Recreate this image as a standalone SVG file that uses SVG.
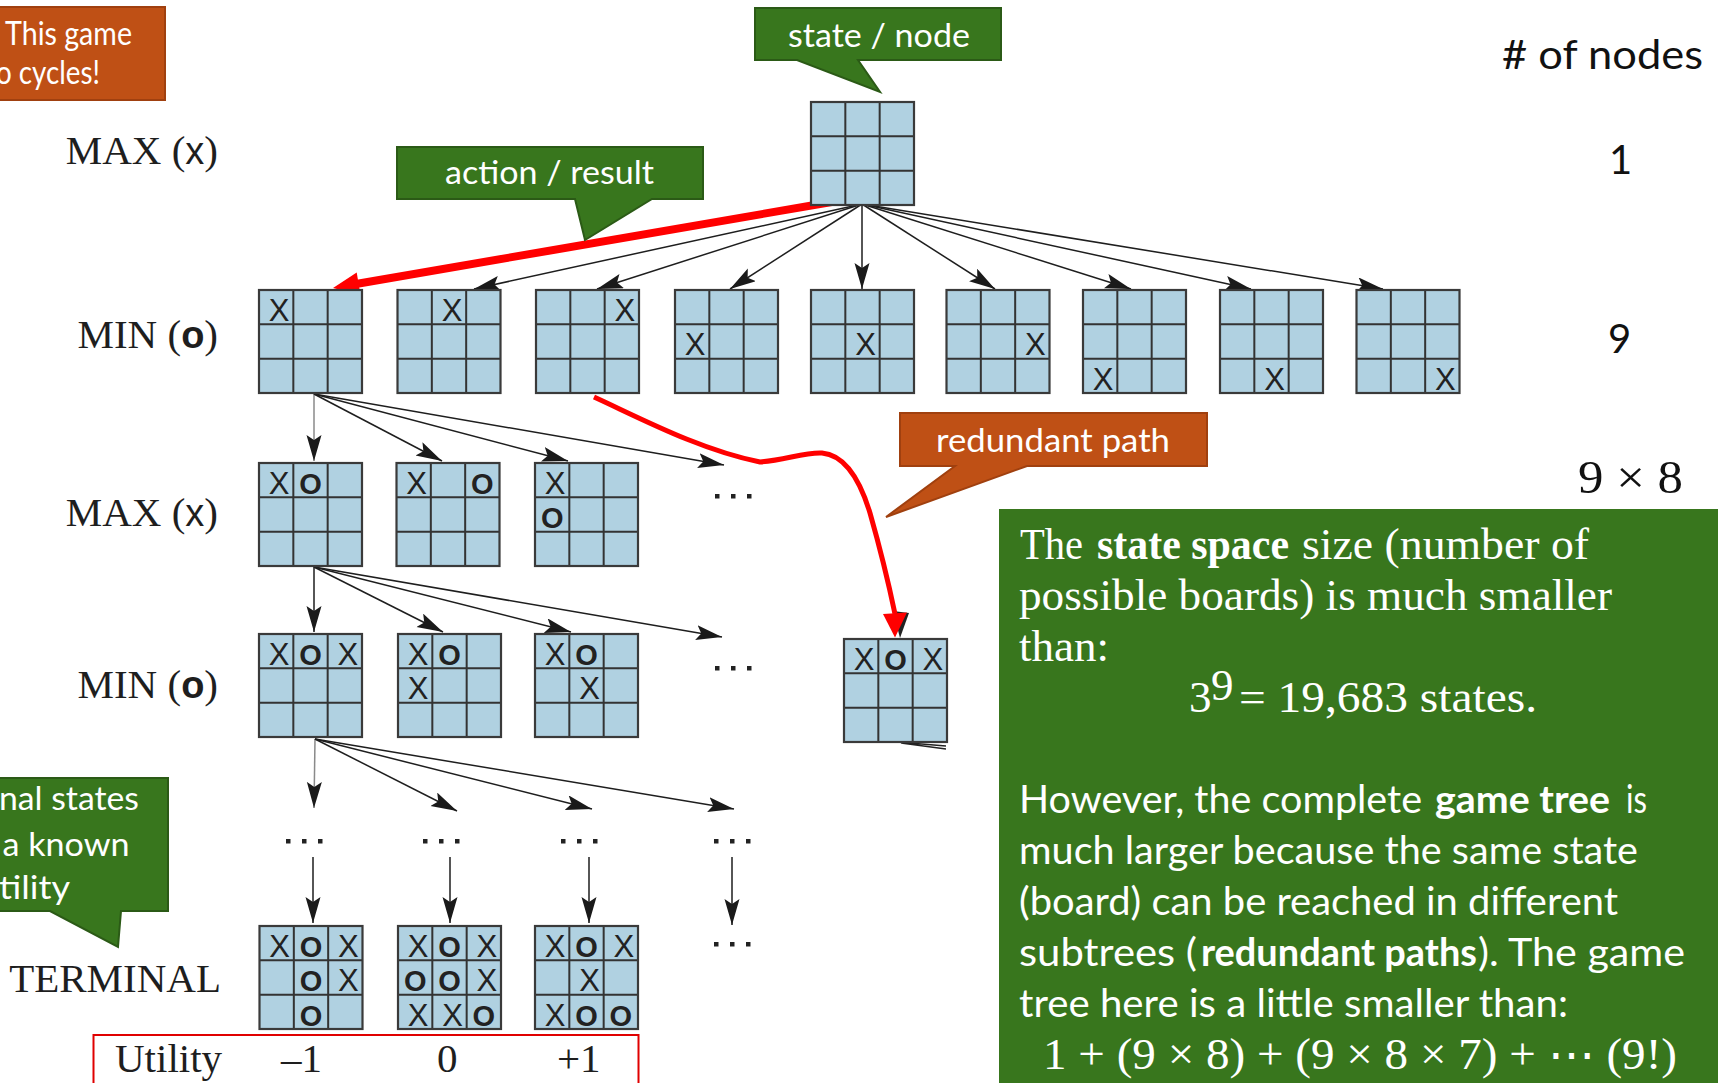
<svg xmlns="http://www.w3.org/2000/svg" width="1718" height="1083" viewBox="0 0 1718 1083">
  <style>
    .cellbg { fill: #b0d1e1; }
    .grid { fill: none; stroke: #333; stroke-width: 2; }
    .frame { fill: none; stroke: #3a3a3a; stroke-width: 2.2; }
    .mk { font-family: "Liberation Sans", Arial, sans-serif; font-size: 31px; fill: #222; text-anchor: middle; }
    .mo { font-weight: bold; font-size: 29px; }
    .lbl { font-family: "Liberation Serif", "Times New Roman", serif; font-size: 41px; fill: #1e1e1e; text-anchor: end; }
    .lsym { font-family: "Liberation Sans", Arial, sans-serif; font-size: 38px; }
    .util { font-family: "Liberation Serif", "Times New Roman", serif; font-size: 41px; fill: #1e1e1e; }
    .edge { fill: none; stroke: #1e1e1e; stroke-width: 1.5; marker-end: url(#ah); }
    .edge.soft { stroke: #8a8a8a; }
    .dot { fill: #222; }
    .green { fill: #38761d; stroke: #2b5a16; stroke-width: 2; }
    .orange { fill: #bf5015; stroke: #a0400f; stroke-width: 2; }
    .cw { font-family: Lato, "Liberation Sans", sans-serif; font-size: 32px; fill: #fff; }
    .count { font-family: Lato, "Liberation Sans", sans-serif; font-size: 40px; fill: #111; }
    .math { font-family: "Liberation Serif", "Times New Roman", serif; fill: #111; }
    .body-serif { font-family: "Liberation Serif", "Times New Roman", serif; font-size: 45px; fill: #fff; }
    .body-sans { font-family: Lato, "Liberation Sans", sans-serif; font-size: 39px; fill: #fff; }
    .b { font-weight: bold; }
  </style>
  <defs>
    <marker id="ah" markerUnits="userSpaceOnUse" markerWidth="28" markerHeight="16" refX="26" refY="7.5" orient="auto">
      <path d="M0,0 L26,7.5 L0,15 L5,7.5 Z" fill="#1a1a1a"/>
    </marker>
    <g id="board">
      <rect width="103" height="103" class="cellbg"/>
      <path d="M34.33,0V103M68.67,0V103M0,34.33H103M0,68.67H103" class="grid"/>
      <rect width="103" height="103" class="frame"/>
    </g>
  </defs>

  <rect width="1718" height="1083" fill="#fff"/>

  <!-- ply labels -->
  <g id="ply-labels">
    <text class="lbl" x="218" y="164">MAX (<tspan class="lsym">x</tspan>)</text>
    <text class="lbl" x="218" y="348">MIN (<tspan class="lsym b">o</tspan>)</text>
    <text class="lbl" x="218" y="526">MAX (<tspan class="lsym">x</tspan>)</text>
    <text class="lbl" x="218" y="698">MIN (<tspan class="lsym b">o</tspan>)</text>
    <text class="lbl" x="221" y="992">TERMINAL</text>
  </g>

  <!-- utility row -->
  <g id="utility">
    <rect x="93.5" y="1035" width="545" height="60" fill="none" stroke="#e00000" stroke-width="2"/>
    <text class="util" x="115" y="1072">Utility</text>
    <text class="util" x="281" y="1072">–1</text>
    <text class="util" x="437" y="1072">0</text>
    <text class="util" x="557" y="1072">+1</text>
  </g>

  <!-- connectors -->
  <g id="connectors">
    <!-- root to first MIN ply -->
    <path class="edge" d="M862,204 L474,289"/>
    <path class="edge" d="M862,204 L597,289"/>
    <path class="edge" d="M862,204 L730,289"/>
    <path class="edge" d="M862,204 L862,289"/>
    <path class="edge" d="M862,204 L995,289"/>
    <path class="edge" d="M862,204 L1131,289"/>
    <path class="edge" d="M862,204 L1251,289"/>
    <path class="edge" d="M862,204 L1383,289"/>
    <!-- MIN ply to MAX ply -->
    <path class="edge soft" d="M314,394 L314,461"/>
    <path class="edge" d="M314,394 L442,461"/>
    <path class="edge" d="M314,394 L568,461"/>
    <path class="edge" d="M314,394 L724,465"/>
    <!-- MAX ply to MIN ply -->
    <path class="edge" d="M314,567 L314,632"/>
    <path class="edge" d="M314,567 L443,632"/>
    <path class="edge" d="M314,567 L571,632"/>
    <path class="edge" d="M314,567 L722,637"/>
    <!-- MIN ply to elided plies -->
    <path class="edge soft" d="M315,739 L314,808"/>
    <path class="edge" d="M315,739 L457,811"/>
    <path class="edge" d="M315,739 L592,809"/>
    <path class="edge" d="M315,739 L734,809"/>
    <!-- elided plies to terminal states -->
    <path class="edge" d="M313,857 L313,923"/>
    <path class="edge" d="M450,857 L450,923"/>
    <path class="edge" d="M589,857 L589,923"/>
    <path class="edge" d="M732,857 L732,925"/>
    <!-- stray edge stubs under the repeated board -->
    <path d="M897,742 L946,746 M901,743 L946,749" stroke="#222" stroke-width="1.3" fill="none"/>
    <polygon points="893,611 909,613 900,638" fill="#222"/>

    <!-- highlighted action: root to first child -->
    <line x1="861" y1="197" x2="356" y2="284" stroke="#ff0000" stroke-width="8"/>
    <polygon points="333,288 356.7,272.5 360.5,295" fill="#ff0000"/>

    <!-- redundant path curve -->
    <path d="M594,397 C640,418 700,450 760,462 C785,460 805,452 822,453 C845,455 860,480 870,513 C880,548 890,590 895,614" fill="none" stroke="#ff0000" stroke-width="5"/>
    <polygon points="883,614 907,612.5 895,637.5" fill="#ff0000"/>
  </g>

  <!-- elided siblings -->
  <g id="ellipses">
    <rect class="dot" x="715" y="494" width="4.5" height="4.5"/><rect class="dot" x="731" y="494" width="4.5" height="4.5"/><rect class="dot" x="747" y="494" width="4.5" height="4.5"/>
    <rect class="dot" x="715" y="666" width="4.5" height="4.5"/><rect class="dot" x="731" y="666" width="4.5" height="4.5"/><rect class="dot" x="747" y="666" width="4.5" height="4.5"/>
    <rect class="dot" x="286" y="839" width="4.5" height="4.5"/><rect class="dot" x="302" y="839" width="4.5" height="4.5"/><rect class="dot" x="318" y="839" width="4.5" height="4.5"/>
    <rect class="dot" x="423" y="839" width="4.5" height="4.5"/><rect class="dot" x="439" y="839" width="4.5" height="4.5"/><rect class="dot" x="455" y="839" width="4.5" height="4.5"/>
    <rect class="dot" x="561" y="839" width="4.5" height="4.5"/><rect class="dot" x="577" y="839" width="4.5" height="4.5"/><rect class="dot" x="593" y="839" width="4.5" height="4.5"/>
    <rect class="dot" x="714" y="839" width="4.5" height="4.5"/><rect class="dot" x="730" y="839" width="4.5" height="4.5"/><rect class="dot" x="746" y="839" width="4.5" height="4.5"/>
    <rect class="dot" x="714" y="942" width="4.5" height="4.5"/><rect class="dot" x="730" y="942" width="4.5" height="4.5"/><rect class="dot" x="746" y="942" width="4.5" height="4.5"/>
  </g>

  <!-- root -->
  <g id="n-root" transform="translate(811,102)"><use href="#board"/></g>

  <!-- MIN ply: the nine opening moves -->
  <g id="n-min-1" transform="translate(259,290)"><use href="#board"/><text class="mk" x="20.2" y="31">X</text></g>
  <g id="n-min-2" transform="translate(397.5,290)"><use href="#board"/><text class="mk" x="54.5" y="31">X</text></g>
  <g id="n-min-3" transform="translate(536,290)"><use href="#board"/><text class="mk" x="88.8" y="31">X</text></g>
  <g id="n-min-4" transform="translate(675,290)"><use href="#board"/><text class="mk" x="20.2" y="65.3">X</text></g>
  <g id="n-min-5" transform="translate(811,290)"><use href="#board"/><text class="mk" x="54.5" y="65.3">X</text></g>
  <g id="n-min-6" transform="translate(946.5,290)"><use href="#board"/><text class="mk" x="88.8" y="65.3">X</text></g>
  <g id="n-min-7" transform="translate(1083,290)"><use href="#board"/><text class="mk" x="20.2" y="99.6">X</text></g>
  <g id="n-min-8" transform="translate(1220,290)"><use href="#board"/><text class="mk" x="54.5" y="99.6">X</text></g>
  <g id="n-min-9" transform="translate(1356.5,290)"><use href="#board"/><text class="mk" x="88.8" y="99.6">X</text></g>

  <!-- MAX ply -->
  <g id="n-max-1" transform="translate(259,463)"><use href="#board"/><text class="mk" x="20.2" y="31">X</text><text class="mk mo" x="51.5" y="31">O</text></g>
  <g id="n-max-2" transform="translate(396.5,463)"><use href="#board"/><text class="mk" x="20.2" y="31">X</text><text class="mk mo" x="85.8" y="31">O</text></g>
  <g id="n-max-3" transform="translate(535,463)"><use href="#board"/><text class="mk" x="20.2" y="31">X</text><text class="mk mo" x="17.2" y="65.3">O</text></g>

  <!-- MIN ply -->
  <g id="n-min2-1" transform="translate(259,634)"><use href="#board"/><text class="mk" x="20.2" y="31">X</text><text class="mk mo" x="51.5" y="31">O</text><text class="mk" x="88.8" y="31">X</text></g>
  <g id="n-min2-2" transform="translate(398,634)"><use href="#board"/><text class="mk" x="20.2" y="31">X</text><text class="mk mo" x="51.5" y="31">O</text><text class="mk" x="20.2" y="65.3">X</text></g>
  <g id="n-min2-3" transform="translate(535,634)"><use href="#board"/><text class="mk" x="20.2" y="31">X</text><text class="mk mo" x="51.5" y="31">O</text><text class="mk" x="54.5" y="65.3">X</text></g>

  <!-- same state reached along another branch -->
  <g id="n-repeat" transform="translate(844,639)"><use href="#board"/><text class="mk" x="20.2" y="31">X</text><text class="mk mo" x="51.5" y="31">O</text><text class="mk" x="88.8" y="31">X</text></g>

  <!-- terminal states -->
  <g id="n-term-1" transform="translate(259.5,926)"><use href="#board"/>
    <text class="mk" x="20.2" y="31">X</text><text class="mk mo" x="51.5" y="31">O</text><text class="mk" x="88.8" y="31">X</text>
    <text class="mk mo" x="51.5" y="65.3">O</text><text class="mk" x="88.8" y="65.3">X</text>
    <text class="mk mo" x="51.5" y="99.6">O</text>
  </g>
  <g id="n-term-2" transform="translate(398,926)"><use href="#board"/>
    <text class="mk" x="20.2" y="31">X</text><text class="mk mo" x="51.5" y="31">O</text><text class="mk" x="88.8" y="31">X</text>
    <text class="mk mo" x="17.2" y="65.3">O</text><text class="mk mo" x="51.5" y="65.3">O</text><text class="mk" x="88.8" y="65.3">X</text>
    <text class="mk" x="20.2" y="99.6">X</text><text class="mk" x="54.5" y="99.6">X</text><text class="mk mo" x="85.8" y="99.6">O</text>
  </g>
  <g id="n-term-3" transform="translate(535,926)"><use href="#board"/>
    <text class="mk" x="20.2" y="31">X</text><text class="mk mo" x="51.5" y="31">O</text><text class="mk" x="88.8" y="31">X</text>
    <text class="mk" x="54.5" y="65.3">X</text>
    <text class="mk" x="20.2" y="99.6">X</text><text class="mk mo" x="51.5" y="99.6">O</text><text class="mk mo" x="85.8" y="99.6">O</text>
  </g>

  <!-- node counts per ply -->
  <g id="counts">
    <text class="count" x="1502" y="69" textLength="201" lengthAdjust="spacingAndGlyphs"># of nodes</text>
    <text class="count" x="1609" y="173.5" font-size="38">1</text>
    <text class="count" x="1608" y="353" font-size="38">9</text>
    <text class="math" x="1578" y="493" font-size="46" textLength="105" lengthAdjust="spacingAndGlyphs">9 × 8</text>
  </g>

  <!-- callouts -->
  <g id="callout-cycles">
    <path class="orange" d="M-3,7 H165 V100 H-3 Z"/>
    <text class="cw" x="5" y="45" font-size="32" textLength="127" lengthAdjust="spacingAndGlyphs">This game</text>
    <text class="cw" x="-4" y="84" font-size="32" textLength="104" lengthAdjust="spacingAndGlyphs">o cycles!</text>
  </g>
  <g id="callout-state">
    <path class="green" d="M755,8 H1001 V60 H858 L880,92 L797,60 H755 Z"/>
    <text class="cw" x="788" y="46.5" textLength="182" lengthAdjust="spacingAndGlyphs">state / node</text>
  </g>
  <g id="callout-action">
    <path class="green" d="M397,147 H703 V199 H652 L585,240 L575,199 H397 Z"/>
    <text class="cw" x="445" y="184" textLength="209" lengthAdjust="spacingAndGlyphs">action / result</text>
  </g>
  <g id="callout-redundant">
    <path class="orange" d="M900,413 H1207 V466 H1027 L886,517 L955,466 H900 Z"/>
    <text class="cw" x="936" y="452" textLength="234" lengthAdjust="spacingAndGlyphs">redundant path</text>
  </g>
  <g id="callout-terminal">
    <path class="green" d="M-3,778 H168 V911 H121 L118,947 L50,911 H-3 Z"/>
    <text class="cw" x="-1" y="810" textLength="140" lengthAdjust="spacingAndGlyphs">nal states</text>
    <text class="cw" x="2.5" y="856" textLength="127" lengthAdjust="spacingAndGlyphs">a known</text>
    <text class="cw" x="-1" y="899" textLength="71" lengthAdjust="spacingAndGlyphs">tility</text>
  </g>

  <!-- explanation panel -->
  <g id="note">
    <rect x="999" y="509" width="730" height="590" fill="#38761d"/>
    <text class="body-serif" x="1020" y="558.5" textLength="63" lengthAdjust="spacingAndGlyphs">The</text>
    <text class="body-serif b" x="1097" y="558.5" textLength="192" lengthAdjust="spacingAndGlyphs">state space</text>
    <text class="body-serif" x="1302" y="558.5" textLength="287" lengthAdjust="spacingAndGlyphs">size (number of</text>
    <text class="body-serif" x="1019" y="609.5" textLength="593" lengthAdjust="spacingAndGlyphs">possible boards) is much smaller</text>
    <text class="body-serif" x="1019" y="660.5" textLength="90" lengthAdjust="spacingAndGlyphs">than:</text>
    <text class="body-serif" x="1189" y="711.5">3</text>
    <text class="body-serif" x="1211" y="700" font-size="24">9</text>
    <text class="body-serif" x="1239" y="711.5" textLength="298" lengthAdjust="spacingAndGlyphs">= 19,683 states.</text>

    <text class="body-sans" x="1019" y="813" textLength="403" lengthAdjust="spacingAndGlyphs">However, the complete</text>
    <text class="body-sans b" x="1435" y="813" textLength="175" lengthAdjust="spacingAndGlyphs">game tree</text>
    <text class="body-sans" x="1626" y="813" textLength="21" lengthAdjust="spacingAndGlyphs">is</text>
    <text class="body-sans" x="1019" y="864" textLength="619" lengthAdjust="spacingAndGlyphs">much larger because the same state</text>
    <text class="body-sans" x="1019" y="915" textLength="599" lengthAdjust="spacingAndGlyphs">(board) can be reached in different</text>
    <text class="body-sans" x="1019" y="966" textLength="178" lengthAdjust="spacingAndGlyphs">subtrees (</text>
    <text class="body-sans b" x="1201" y="966" textLength="276" lengthAdjust="spacingAndGlyphs">redundant paths</text>
    <text class="body-sans" x="1478" y="966" textLength="207" lengthAdjust="spacingAndGlyphs">). The game</text>
    <text class="body-sans" x="1019" y="1017" textLength="549" lengthAdjust="spacingAndGlyphs">tree here is a little smaller than:</text>
    <text class="body-serif" x="1043" y="1069" textLength="634" lengthAdjust="spacingAndGlyphs">1 + (9 ×  8) + (9 × 8 × 7) + ⋯ (9!)</text>
  </g>
</svg>
